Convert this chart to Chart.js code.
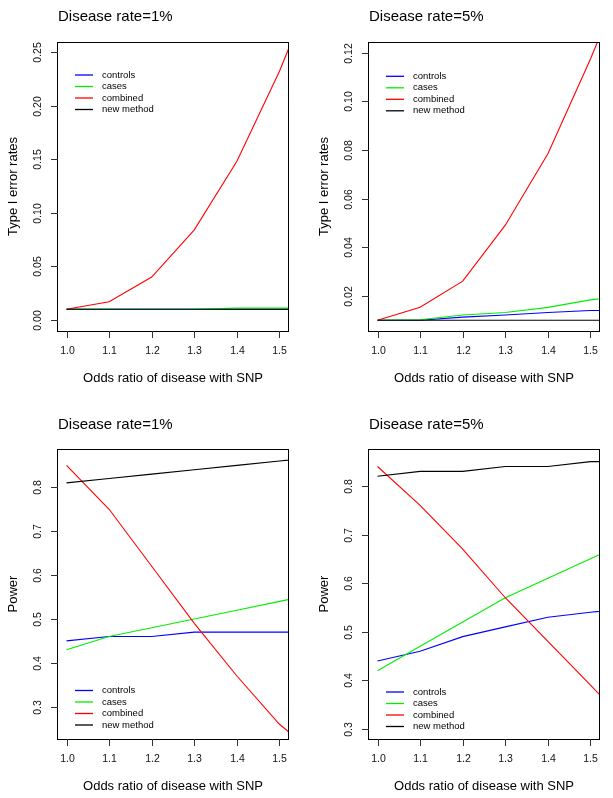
<!DOCTYPE html>
<html><head><meta charset="utf-8">
<script src="https://cdn.jsdelivr.net/npm/chart.js@4/dist/chart.umd.min.js"></script>
<style>
html,body{margin:0;padding:0;background:#fff;width:613px;height:798px;overflow:hidden}
canvas{position:absolute}
</style></head><body>
<canvas id="c1" width="306" height="400" style="left:0;top:0"></canvas>
<canvas id="c2" width="307" height="400" style="left:306px;top:0"></canvas>
<canvas id="c3" width="306" height="398" style="left:0;top:400px"></canvas>
<canvas id="c4" width="307" height="398" style="left:306px;top:400px"></canvas>
<script>
// ---------- data ----------
const oddsRatios = [1.0, 1.1, 1.2, 1.3, 1.4, 1.5, 1.6];
const xTickValues = [1.0, 1.1, 1.2, 1.3, 1.4, 1.5];
const xTickLabels = ["1.0", "1.1", "1.2", "1.3", "1.4", "1.5"];
const seriesNames = ["controls", "cases", "combined", "new method"];

const panelTitles = ["Disease rate=1%", "Disease rate=5%", "Disease rate=1%", "Disease rate=5%"];
const yTitles = ["Type I error rates", "Type I error rates", "Power", "Power"];
const xTitle = "Odds ratio of disease with SNP";

// Type I error, disease rate 1%
const t1r1Controls = [0.010, 0.010, 0.010, 0.010, 0.010, 0.010, 0.010];
const t1r1Cases    = [0.010, 0.010, 0.010, 0.010, 0.011, 0.011, 0.011];
const t1r1Combined = [0.010, 0.017, 0.040, 0.084, 0.148, 0.232, 0.330];
const t1r1New      = [0.010, 0.010, 0.010, 0.010, 0.010, 0.010, 0.010];
const t1r1YTicks = [0.00, 0.05, 0.10, 0.15, 0.20, 0.25];
const t1r1YLabels = ["0.00", "0.05", "0.10", "0.15", "0.20", "0.25"];

// Type I error, disease rate 5%
const t1r5Controls = [0.010, 0.010, 0.0113, 0.0122, 0.0132, 0.0140, 0.0142];
const t1r5Cases    = [0.010, 0.0102, 0.0122, 0.0132, 0.0153, 0.0184, 0.0205];
const t1r5Combined = [0.010, 0.0154, 0.0261, 0.0491, 0.0785, 0.1174, 0.160];
const t1r5New      = [0.010, 0.010, 0.010, 0.010, 0.010, 0.010, 0.010];
const t1r5YTicks = [0.02, 0.04, 0.06, 0.08, 0.10, 0.12];
const t1r5YLabels = ["0.02", "0.04", "0.06", "0.08", "0.10", "0.12"];

// Power, disease rate 1%
const pwr1Controls = [0.45, 0.46, 0.46, 0.47, 0.47, 0.47, 0.47];
const pwr1Cases    = [0.43, 0.46, 0.48, 0.50, 0.52, 0.54, 0.56];
const pwr1Combined = [0.85, 0.75, 0.62, 0.49, 0.37, 0.26, 0.18];
const pwr1New      = [0.81, 0.82, 0.83, 0.84, 0.85, 0.86, 0.87];
const pwr1YTicks = [0.3, 0.4, 0.5, 0.6, 0.7, 0.8];
const pwr1YLabels = ["0.3", "0.4", "0.5", "0.6", "0.7", "0.8"];

// Power, disease rate 5%
const pwr5Controls = [0.44, 0.46, 0.49, 0.51, 0.53, 0.54, 0.55];
const pwr5Cases    = [0.42, 0.47, 0.52, 0.57, 0.61, 0.65, 0.69];
const pwr5Combined = [0.84, 0.76, 0.67, 0.57, 0.48, 0.39, 0.30];
const pwr5New      = [0.82, 0.83, 0.83, 0.84, 0.84, 0.85, 0.85];
const pwr5YTicks = [0.3, 0.4, 0.5, 0.6, 0.7, 0.8];
const pwr5YLabels = ["0.3", "0.4", "0.5", "0.6", "0.7", "0.8"];

// ---------- styling / layout ----------
const FONT = '"Liberation Sans", Arial, Helvetica, sans-serif';
const lineColors = ["#0000ff", "#00ee00", "#ff0000", "#000000"];

const rAxesPlugin = {
  id: 'rAxes',
  afterDatasetsDraw(chart, args, o) {
    const ctx = chart.ctx;
    const a = chart.chartArea;
    const xs = chart.scales.x, ys = chart.scales.y;
    ctx.save();
    // box
    ctx.strokeStyle = '#000';
    ctx.lineWidth = 1;
    ctx.strokeRect(a.left - 0.5, a.top + 0.5, a.right - a.left + 1, a.bottom - a.top);
    // ticks
    ctx.strokeStyle = '#333';
    ctx.fillStyle = '#111';
    ctx.font = '10.5px ' + FONT;
    ctx.textAlign = 'center';
    ctx.textBaseline = 'alphabetic';
    xTickValues.forEach((v, i) => {
      const px = Math.round(xs.getPixelForValue(v)) + 0.5;
      ctx.beginPath(); ctx.moveTo(px, a.bottom); ctx.lineTo(px, a.bottom + 7); ctx.stroke();
      ctx.fillText(xTickLabels[i], px, a.bottom + 23);
    });
    o.yTicks.forEach((v, i) => {
      const py = Math.round(ys.getPixelForValue(v)) + 0.5;
      ctx.beginPath(); ctx.moveTo(a.left - 7, py); ctx.lineTo(a.left, py); ctx.stroke();
      ctx.save();
      ctx.translate(a.left - 17, py);
      ctx.rotate(-Math.PI / 2);
      ctx.fillText(o.yLabels[i], 0, 0);
      ctx.restore();
    });
    // axis titles
    ctx.fillStyle = '#000';
    ctx.font = '13px ' + FONT;
    ctx.fillText(xTitle, (a.left + a.right) / 2, a.bottom + 50.5);
    ctx.save();
    ctx.translate(a.left - 41.5, (a.top + a.bottom) / 2);
    ctx.rotate(-Math.PI / 2);
    ctx.fillText(o.yTitle, 0, 0);
    ctx.restore();
    // main title
    ctx.textAlign = 'left';
    ctx.font = '15px ' + FONT;
    ctx.fillText(o.title, a.left, o.titleY);
    // legend
    ctx.font = '9.5px ' + FONT;
    ctx.textBaseline = 'middle';
    chart.data.datasets.forEach((ds, i) => {
      const y = o.legendAtTop ? a.top + o.legendOffset + i * 11.5 : a.bottom - o.legendOffset - (3 - i) * 11.5;
      ctx.strokeStyle = ds.borderColor;
      ctx.lineWidth = 1.3;
      ctx.beginPath(); ctx.moveTo(a.left + 17, y); ctx.lineTo(a.left + 35, y); ctx.stroke();
      ctx.fillStyle = '#000';
      ctx.fillText(ds.label, a.left + 44, y);
    });
    ctx.restore();
  }
};

function makePanel(id, series, yMin, yMax, yTicks, yLabels, title, yTitle, area, titleY, legendAtTop, legendOffset) {
  const canvas = document.getElementById(id);
  const W = canvas.width, H = canvas.height;
  const datasets = series.map((vals, i) => ({
    label: seriesNames[i],
    data: oddsRatios.map((x, j) => ({ x: x, y: vals[j] })),
    borderColor: lineColors[i],
    borderWidth: 1.1,
    pointRadius: 0,
    tension: 0,
    fill: false,
    order: 3 - i
  }));
  new Chart(canvas, {
    type: 'line',
    data: { datasets },
    options: {
      responsive: false,
      animation: false,
      devicePixelRatio: 1,
      layout: { padding: { left: area[0], top: area[1], right: W - area[2], bottom: H - area[3] } },
      plugins: {
        legend: { display: false },
        tooltip: { enabled: false },
        rAxes: { yTicks, yLabels, title, yTitle, titleY, legendAtTop, legendOffset }
      },
      scales: {
        x: { type: 'linear', min: 0.98, max: 1.52, display: false },
        y: { type: 'linear', min: yMin, max: yMax, display: false }
      }
    },
    plugins: [rAxesPlugin]
  });
}

makePanel('c1', [t1r1Controls, t1r1Cases, t1r1Combined, t1r1New], -0.0103, 0.2593, t1r1YTicks, t1r1YLabels,
  panelTitles[0], yTitles[0], [58, 42, 288, 331], 21, true, 33);
makePanel('c2', [t1r5Controls, t1r5Cases, t1r5Combined, t1r5New], 0.0056, 0.1244, t1r5YTicks, t1r5YLabels,
  panelTitles[1], yTitles[1], [63, 42, 293, 331], 21, true, 34.3);
makePanel('c3', [pwr1Controls, pwr1Cases, pwr1Combined, pwr1New], 0.2264, 0.8873, pwr1YTicks, pwr1YLabels,
  panelTitles[2], yTitles[2], [58, 49, 288, 339], 29, false, 14);
makePanel('c4', [pwr5Controls, pwr5Cases, pwr5Combined, pwr5New], 0.2794, 0.876, pwr5YTicks, pwr5YLabels,
  panelTitles[3], yTitles[3], [63, 49, 293, 339], 29, false, 12.5);
</script>
</body></html>
